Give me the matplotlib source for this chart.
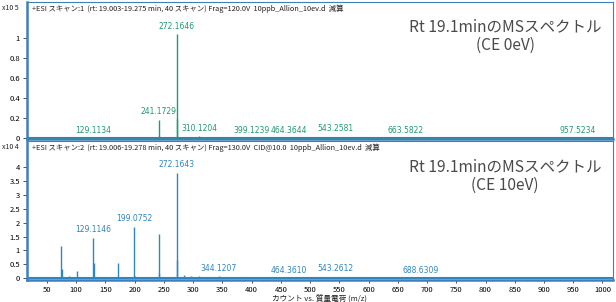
import matplotlib.pyplot as plt

plt.rcParams['font.family'] = ['Noto Sans CJK JP', 'DejaVu Sans']

# CE 0eV spectrum (x10^5 counts)
mz_0ev = [75, 101, 129.11, 130.1, 172.1, 199.1, 218, 241.17, 242.2, 272.16, 273.17,
          284, 297, 310.12, 327, 344, 399.12, 413, 464.36, 488, 543.26, 572, 611,
          663.58, 705, 760, 812, 870, 915, 957.52, 985]
int_0ev = [0.008, 0.006, 0.012, 0.006, 0.006, 0.008, 0.006, 0.18, 0.02, 1.04, 0.19,
           0.015, 0.012, 0.025, 0.008, 0.008, 0.012, 0.006, 0.01, 0.006, 0.01, 0.006, 0.006,
           0.008, 0.005, 0.006, 0.006, 0.005, 0.006, 0.008, 0.005]
labels_0ev = ["129.1134", "241.1729", "272.1646", "310.1204", "399.1239",
              "464.3644", "543.2581", "663.5822", "957.5234"]
label_mz_0ev = [129.11, 241.17, 272.16, 310.12, 399.12, 464.36, 543.26, 663.58, 957.52]
label_y_0ev = [0.03, 0.22, 1.07, 0.05, 0.03, 0.03, 0.05, 0.03, 0.03]

# CE 10eV spectrum (x10^4 counts)
mz_10ev = [42, 58, 74.1, 75.1, 87, 101.1, 115, 129.11, 130.1, 143, 157, 172.1, 185,
           199.08, 200.1, 227, 241.2, 242.2, 256, 272.16, 273.17, 284, 297, 310,
           326, 344.12, 372, 410, 464.36, 500, 543.26, 600, 688.63, 760, 850, 920]
int_10ev = [0.03, 0.05, 1.16, 0.33, 0.06, 0.25, 0.04, 1.45, 0.54, 0.05, 0.04, 0.54, 0.05,
            1.84, 0.08, 0.05, 1.59, 0.2, 0.05, 3.79, 0.65, 0.1, 0.07, 0.06,
            0.05, 0.07, 0.03, 0.03, 0.03, 0.02, 0.03, 0.02, 0.02, 0.02, 0.02, 0.02]
labels_10ev = ["129.1146", "199.0752", "272.1643", "344.1207", "464.3610",
               "543.2612", "688.6309"]
label_mz_10ev = [129.11, 199.08, 272.16, 344.12, 464.36, 543.26, 688.63]
label_y_10ev = [1.6, 2.0, 3.95, 0.17, 0.1, 0.17, 0.1]

header_0ev = "+ESI スキャン:1  (rt: 19.003-19.275 min, 40 スキャン) Frag=120.0V  10ppb_Allion_10ev.d  減算"
header_10ev = "+ESI スキャン:2  (rt: 19.006-19.278 min, 40 スキャン) Frag=130.0V  CID@10.0  10ppb_Allion_10ev.d  減算"

green = "#1f9a72"
blue = "#2f86c0"
frame = "#3d7fbf"

fig = plt.figure(figsize=(6.16, 3.02), dpi=100)
ax1 = fig.add_axes([27 / 616, 1 - 139 / 302, 586 / 616, 137 / 302])
ax2 = fig.add_axes([27 / 616, 1 - 280 / 302, 586 / 616, 139 / 302])

panels = [
    (ax1, mz_0ev, int_0ev, labels_0ev, label_mz_0ev, label_y_0ev, green, header_0ev,
     (-0.01, 1.36), [0, 0.2, 0.4, 0.6, 0.8, 1], ["0", "0.2", "0.4", "0.6", "0.8", "1"],
     "x10 5", "Rt 19.1minのMSスペクトル\n(CE 0eV)"),
    (ax2, mz_10ev, int_10ev, labels_10ev, label_mz_10ev, label_y_10ev, blue, header_10ev,
     (-0.07, 4.95), [0, 0.5, 1, 1.5, 2, 2.5, 3, 3.5, 4],
     ["0", "0.5", "1", "1.5", "2", "2.5", "3", "3.5", "4"],
     "x10 4", "Rt 19.1minのMSスペクトル\n(CE 10eV)"),
]

for ax, mz, inten, labs, lmz, ly, col, header, ylim, yt, ytl, scale, title in panels:
    ax.vlines(mz, 0, inten, color=col, linewidth=1.0)
    ax.axhline(0, color=col, linewidth=1.5)
    for t, x, y in zip(labs, lmz, ly):
        ax.text(x, y, t, color=col, fontsize=5.5, ha="center", va="bottom",
                family="DejaVu Sans")
    ax.set_xlim(16, 1018)
    ax.set_ylim(*ylim)
    ax.set_yticks(yt)
    ax.set_yticklabels(ytl)
    for s in ax.spines.values():
        s.set_color(frame)
        s.set_linewidth(0.8)
    ax.spines["left"].set_linewidth(1.8)
    ax.spines["bottom"].set_linewidth(1.8)
    ax.tick_params(axis="y", labelsize=5.5, length=3, width=0.6, pad=2, color="#333333")
    ax.text(0.008, 0.985, header, transform=ax.transAxes, fontsize=5.3,
            ha="left", va="top", color="#222222")
    ax.text(0.98, 0.75, title, transform=ax.transAxes, fontsize=11.2, ha="right",
            va="center", color="#4a4a4a", linespacing=1.1, multialignment="center")
    ax.text(-0.043, 0.985, scale, transform=ax.transAxes, fontsize=5, ha="left",
            va="top", color="#222222")

ax1.tick_params(axis="x", length=0, labelbottom=False)
ax2.set_xticks(range(50, 1001, 50))
ax2.tick_params(axis="x", labelsize=5.5, length=2, width=0.6, pad=2, color="#333333")
ax2.set_xlabel("カウント vs. 質量電荷 (m/z)", fontsize=5.5, labelpad=1, color="#222222")

fig.savefig("out.png", dpi=100)
